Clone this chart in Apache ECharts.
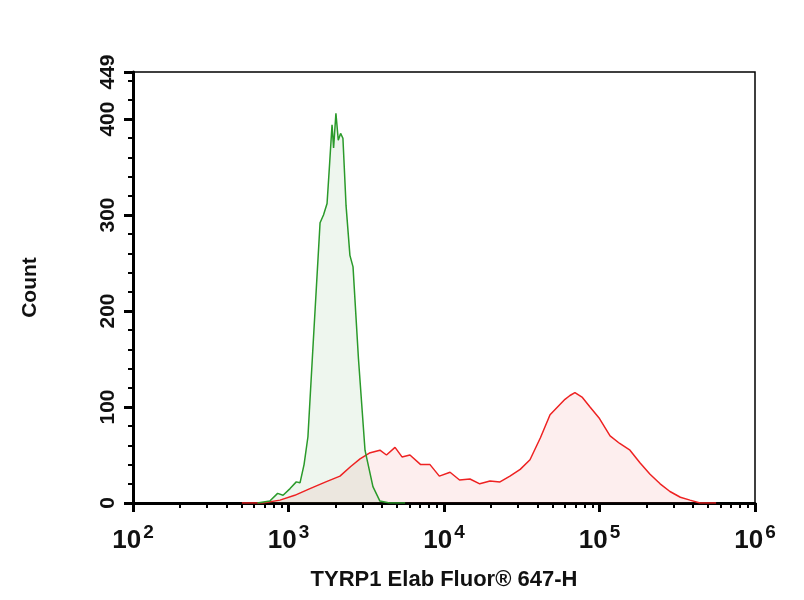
<!DOCTYPE html>
<html><head><meta charset="utf-8">
<script src="https://cdn.jsdelivr.net/npm/echarts@6/dist/echarts.min.js"></script>
<style>html,body{margin:0;padding:0;background:#fff}#c{width:804px;height:600px}</style>
</head><body><div id="c"></div>
<script>
// x values are log10(fluorescence)
const greenX = [2.80,2.88,2.93,2.965,3.01,3.05,3.074,3.10,3.125,3.16,3.203,3.225,3.248,3.265,3.280,3.29,3.305,3.32,3.335,3.350,3.37,3.395,3.415,3.45,3.492,3.543,3.588,3.65,3.75];
const greenY = [0,2,10,8,15,22,21,40,69,170,292,300,312,355,394,370,406,378,385,380,310,258,246,150,55,17,2,0,0];
const redX = [2.70,2.836,2.945,3.04,3.138,3.24,3.331,3.40,3.460,3.52,3.588,3.63,3.685,3.73,3.781,3.85,3.910,3.97,4.039,4.10,4.167,4.23,4.296,4.36,4.424,4.49,4.553,4.62,4.682,4.73,4.778,4.81,4.842,4.89,4.939,5.00,5.068,5.13,5.196,5.26,5.325,5.39,5.453,5.52,5.582,5.646,5.75];
const redY = [0,0,3,8,15,22,28,38,46,52,55,50,58,48,50,40,40,28,32,24,25,20,23,22,28,35,45,68,92,100,108,112,115,110,100,88,70,62,55,42,30,20,12,6,3,0,0];
const xTickLabels = ['2','3','4','5','6'];
const yMax = 449;
const minorX = [];
for (let d=2; d<6; d++) for (let k=2;k<10;k++) minorX.push(d+Math.log10(k));
const minorY = [];
for (let v=0; v<=440; v+=20) minorY.push(v);
const chart = echarts.init(document.getElementById('c'));
const font = '"Liberation Sans Narrow","Liberation Sans",Arial,sans-serif';
chart.setOption({
  animation:false,
  grid:{left:133,right:49,top:72,bottom:97,show:true,borderColor:'#000',borderWidth:1.5},
  xAxis:[{type:'value',min:2,max:6,interval:1,
    axisLine:{lineStyle:{color:'#000',width:3}},
    axisTick:{length:9,inside:false,lineStyle:{color:'#000',width:3}},
    splitLine:{show:false},
    axisLabel:{margin:20,fontFamily:font,fontWeight:'bold',
      formatter:v=>'{b|10}{s|'+xTickLabels[Math.round(v)-2]+'}',
      rich:{b:{fontSize:26,fontFamily:font,fontWeight:'bold',color:'#111',verticalAlign:'bottom'},
            s:{fontSize:19,fontFamily:font,fontWeight:'bold',color:'#111',verticalAlign:'top',padding:[0,0,12,2]}}},
    name:'TYRP1 Elab Fluor\u00AE 647-H',nameLocation:'middle',nameGap:66,
    nameTextStyle:{fontFamily:font,fontWeight:'bold',fontSize:22,color:'#111'}},
   {type:'value',min:2,max:6,position:'bottom',axisLine:{show:false},
    axisTick:{customValues:minorX,length:5,lineStyle:{color:'#000',width:2}},
    axisLabel:{show:false},splitLine:{show:false}}],
  yAxis:[{type:'value',min:0,max:yMax,
    axisLine:{show:true,lineStyle:{color:'#000',width:3}},
    axisTick:{show:true,customValues:[0,100,200,300,400,yMax],length:9,lineStyle:{color:'#000',width:3}},
    splitLine:{show:false},
    axisLabel:{customValues:[0,100,200,300,400,yMax],rotate:90,margin:14,fontFamily:font,fontWeight:'bold',fontSize:21,color:'#111'},
    name:'Count',nameLocation:'middle',nameGap:92,nameRotate:90,
    nameTextStyle:{fontFamily:font,fontWeight:'bold',fontSize:21,color:'#111'}},
   {type:'value',min:0,max:yMax,position:'left',axisLine:{show:false},
    axisTick:{show:true,customValues:minorY,length:5,lineStyle:{color:'#000',width:2}},
    axisLabel:{show:false},splitLine:{show:false}}],
  series:[
    {type:'line',data:redX.map((x,i)=>[x,redY[i]]),showSymbol:false,
     lineStyle:{color:'#ee2222',width:1.5},areaStyle:{color:'rgba(240,90,90,0.15)'}},
    {type:'line',data:greenX.map((x,i)=>[x,greenY[i]]),showSymbol:false,
     lineStyle:{color:'#2a9a2a',width:1.5},areaStyle:{color:'rgba(60,150,60,0.12)'}}
  ]
});
</script></body></html>
